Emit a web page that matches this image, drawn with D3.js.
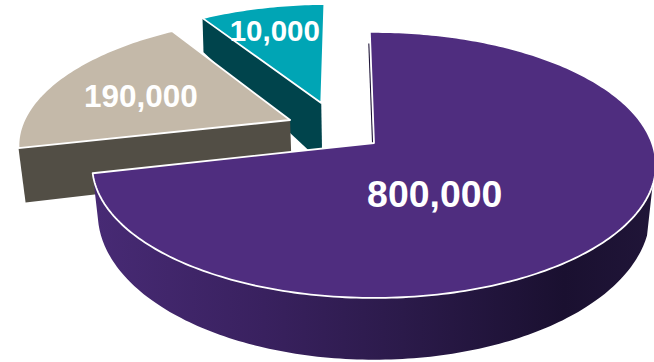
<!DOCTYPE html>
<html>
<head>
<meta charset="utf-8">
<script src="https://cdn.jsdelivr.net/npm/d3@7/dist/d3.min.js"></script>
<style>
  html, body { margin: 0; padding: 0; background: #fff; }
  svg { display: block; }
  text { font-family: "Liberation Sans", Arial, sans-serif; font-weight: 700; fill: #fff; text-anchor: middle; }
</style>
</head>
<body>
<script>
// Slice values, in drawing order (clockwise from twelve o'clock)
const sliceValues = [800000, 190000, 10000];
const sliceLabels = ["800,000", "190,000", "10,000"];
const topColors = ["#4f2d7f", "#c4b9a9", "#00a5b5"];
const wallColors = ["url(#purpleWall)", "#524e45", "#00444c"];

// The slices are schematic, not proportional: sweep comes from this piecewise scale.
const sweep = d3.scaleLinear().domain([10000, 190000, 800000]).range([32, 70, 258]);

// Explosion, radius and label anchor of each slice, in disc coordinates (full radius = 1)
const explode = [[0, 0], [-0.311, 0.183], [-0.2, 0.326]];
const sliceRadius = [1, 0.985, 0.98];
const labelAnchors = [[0.205, -0.37], [-0.892, 0.386], [-0.417, 1.02]];
const labelSizes = [37.4, 31.5, 29.5];

const width = 654, height = 362;
const rad = Math.PI / 180;

// Perspective projection of the tilted disc
const cx = 374, cy = 143, ax = 278, ay = 129.4, persp = 0.165;
const project = ([u, v]) => {
  const w = 1 + persp * v;
  return [cx + ax * u / w, cy - ay * v / w];
};
// Lower face of the extruded disc, for a given wall depth
const lowerFace = depth => ([u, v]) => {
  const w = 1 + persp * v;
  return [cx + ax * 0.98 * u / w, cy + (depth - ay * 1.043 * v) / w];
};
// The smallest slice sits further back, where its wall tapers more steeply
const tealDrop = d3.scaleLinear().domain([1.15, 0.33]).range([34, 60]);
const projectLowerTeal = ([u, v]) => {
  const [x, y] = project([u, v]);
  return [x + 1, y + tealDrop(v)];
};
const lowerFaces = [lowerFace(46), lowerFace(54), projectLowerTeal];

const pie = d3.pie().sort(null).value(d => sweep(d))
  .startAngle(-1 * rad).endAngle(359 * rad);
const arcs = pie(sliceValues);

const polar = (off, a, r) => [off[0] + r * Math.sin(a), off[1] + r * Math.cos(a)];
const rimPoints = (off, a0, a1, r) => {
  const n = Math.max(2, Math.ceil((a1 - a0) / rad));
  return d3.range(n + 1).map(i => polar(off, a0 + (a1 - a0) * i / n, r));
};
const line = d3.line();

const svg = d3.select("body").append("svg").attr("width", width).attr("height", height);

// Shading along the curved outer wall
const grad = svg.append("defs").append("linearGradient")
  .attr("id", "purpleWall").attr("gradientUnits", "userSpaceOnUse")
  .attr("x1", 97).attr("x2", 653).attr("y1", 0).attr("y2", 0);
[[0, "#472a74"], [0.3, "#39215f"], [0.55, "#2b1a4a"], [0.84, "#1a1030"], [1, "#201538"]]
  .forEach(([o, c]) => grad.append("stop").attr("offset", o).attr("stop-color", c));

// Painted back to front: smallest slice, middle slice, large slice, then labels
d3.range(arcs.length).reverse().forEach(i => {
  const d = arcs[i], off = explode[i], r = sliceRadius[i], lower = lowerFaces[i];
  const g = svg.append("g");
  const apex = off;

  if (i === 0) {
    // Outer curved wall of the large slice
    const rim = rimPoints(off, 108 * rad, d.endAngle, r);
    const wall = rim.map(project).concat(rim.slice().reverse().map(lower));
    g.append("path").attr("d", line(wall) + "Z").attr("fill", wallColors[i]);
    // Cut face at twelve o'clock, seen almost edge-on
    const far = polar(off, d.startAngle, 0.88);
    g.append("path").attr("d", line([project(far), project(apex)]))
      .attr("transform", "translate(-1.2,0)")
      .attr("stroke", "#1f1538").attr("stroke-width", 1.6).attr("fill", "none");
  } else {
    // Flat cut face running from the rim into the slice's apex
    const edge = polar(off, d.startAngle, r);
    const wall = [project(edge), project(apex), lower(apex), lower(edge)];
    g.append("path").attr("d", line(wall) + "Z").attr("fill", wallColors[i]);
  }

  const face = [apex].concat(rimPoints(off, d.startAngle, d.endAngle, r)).map(project);
  g.append("path").attr("d", line(face) + "Z")
    .attr("fill", topColors[i])
    .attr("stroke", "#fff").attr("stroke-width", 1.8).attr("stroke-linejoin", "round");
});

svg.selectAll("text").data(sliceLabels).join("text")
  .attr("x", (d, i) => project(labelAnchors[i])[0])
  .attr("y", (d, i) => project(labelAnchors[i])[1])
  .attr("dy", "0.36em")
  .attr("font-size", (d, i) => labelSizes[i])
  .text(d => d);
</script>
</body>
</html>
